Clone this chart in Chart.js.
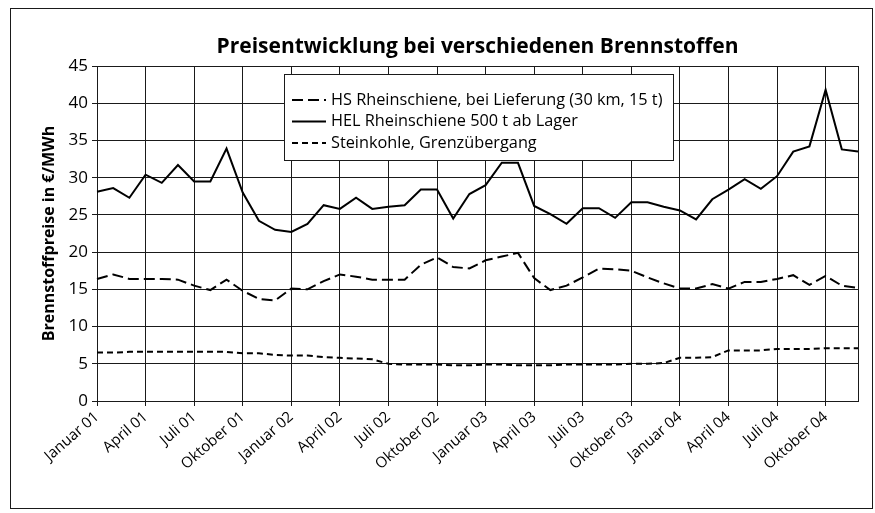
<!DOCTYPE html>
<html lang="de">
<head>
<meta charset="utf-8">
<title>Preisentwicklung bei verschiedenen Brennstoffen</title>
<script src="https://cdn.jsdelivr.net/npm/chart.js@4.4.1/dist/chart.umd.min.js"></script>
<style>
  html, body { margin: 0; padding: 0; background: #fff; }
  #wrap { position: relative; width: 875px; height: 513px; }
</style>
</head>
<body>
<div id="wrap"><canvas id="chart" width="875" height="513"></canvas></div>
<script>
// Monthly prices, Januar 01 .. Dezember 04 (€/MWh)
const months = [
    "Januar 01", "Februar 01", "März 01", "April 01", "Mai 01", "Juni 01",
    "Juli 01", "August 01", "September 01", "Oktober 01", "November 01", "Dezember 01",
    "Januar 02", "Februar 02", "März 02", "April 02", "Mai 02", "Juni 02",
    "Juli 02", "August 02", "September 02", "Oktober 02", "November 02", "Dezember 02",
    "Januar 03", "Februar 03", "März 03", "April 03", "Mai 03", "Juni 03",
    "Juli 03", "August 03", "September 03", "Oktober 03", "November 03", "Dezember 03",
    "Januar 04", "Februar 04", "März 04", "April 04", "Mai 04", "Juni 04",
    "Juli 04", "August 04", "September 04", "Oktober 04", "November 04", "Dezember 04",
];

const hsRheinschiene = [
    16.4, 17.0, 16.4, 16.4, 16.4, 16.3, 15.5, 14.9, 16.3, 14.8, 13.7, 13.5,
    15.1, 15.0, 16.1, 17.0, 16.7, 16.3, 16.3, 16.3, 18.3, 19.3, 18.0, 17.8,
    18.9, 19.4, 19.9, 16.5, 14.9, 15.5, 16.6, 17.8, 17.7, 17.5, 16.6, 15.8,
    15.1, 15.1, 15.7, 15.1, 16.0, 16.0, 16.4, 16.9, 15.6, 16.8, 15.5, 15.2,
];

const helRheinschiene = [
    28.1, 28.6, 27.3, 30.4, 29.3, 31.7, 29.5, 29.5, 33.9, 28.0, 24.2, 23.0,
    22.7, 23.8, 26.3, 25.8, 27.3, 25.8, 26.1, 26.3, 28.4, 28.4, 24.5, 27.8,
    29.0, 32.0, 32.0, 26.2, 25.1, 23.8, 25.9, 25.9, 24.6, 26.7, 26.7, 26.1,
    25.6, 24.4, 27.1, 28.4, 29.8, 28.5, 30.2, 33.5, 34.2, 41.8, 33.8, 33.5,
];

const steinkohle = [
    6.5, 6.5, 6.6, 6.6, 6.6, 6.6, 6.6, 6.6, 6.6, 6.4, 6.4, 6.2,
    6.1, 6.1, 5.9, 5.8, 5.7, 5.6, 5.0, 4.9, 4.9, 4.9, 4.8, 4.8,
    4.9, 4.9, 4.8, 4.8, 4.8, 4.9, 4.9, 4.9, 4.9, 5.0, 5.0, 5.1,
    5.8, 5.8, 5.9, 6.8, 6.8, 6.8, 7.0, 7.0, 7.0, 7.1, 7.1, 7.1,
];

const seriesLabels = [
    "HS Rheinschiene, bei Lieferung (30 km, 15 t)",
    "HEL Rheinschiene 500 t ab Lager",
    "Steinkohle, Grenzübergang",
];

const chartTitle = "Preisentwicklung bei verschiedenen Brennstoffen";
const yTitle = "Brennstoffpreise in €/MWh";

const ink = "#1a1a1a";
const fontFamily = "'Open Sans', 'Noto Sans', sans-serif";

// every third month gets a label and a vertical grid line
const isQuarter = i => i % 3 === 0;

// frame, title and the boxed legend inside the plot
const decorPlugin = {
    id: "decor",
    afterDraw(chart) {
        const { ctx, chartArea } = chart;
        ctx.save();

        ctx.strokeStyle = ink;
        ctx.lineWidth = 1;
        ctx.strokeRect(10.5, 8.5, 862, 500);

        ctx.fillStyle = "#000";
        ctx.font = "bold 21px " + fontFamily;
        ctx.textAlign = "center";
        ctx.textBaseline = "middle";
        ctx.fillText(chartTitle, (chartArea.left + chartArea.right) / 2, 47);

        // legend box
        const box = { x: 284.5, y: 74.5, w: 389, h: 86 };
        ctx.fillStyle = "#fff";
        ctx.fillRect(box.x, box.y, box.w, box.h);
        ctx.strokeRect(box.x, box.y, box.w, box.h);

        ctx.font = "16.3px " + fontFamily;
        ctx.textAlign = "left";
        chart.data.datasets.forEach((ds, i) => {
            const y = 100 + i * 21.5;
            ctx.beginPath();
            ctx.setLineDash(ds.borderDash || []);
            ctx.lineWidth = 2;
            ctx.strokeStyle = "#000";
            ctx.moveTo(292, y);
            ctx.lineTo(326, y);
            ctx.stroke();
            ctx.setLineDash([]);
            ctx.fillStyle = "#000";
            ctx.fillText(ds.label, 331, y);
        });

        ctx.restore();
    },
};

new Chart(document.getElementById("chart"), {
    type: "line",
    data: {
        labels: months,
        datasets: [
            {
                label: seriesLabels[0],
                data: hsRheinschiene,
                borderColor: "#000",
                borderWidth: 2,
                borderDash: [11, 5],
                pointRadius: 0,
                tension: 0,
            },
            {
                label: seriesLabels[1],
                data: helRheinschiene,
                borderColor: "#000",
                borderWidth: 2,
                pointRadius: 0,
                tension: 0,
            },
            {
                label: seriesLabels[2],
                data: steinkohle,
                borderColor: "#000",
                borderWidth: 2,
                borderDash: [6, 4],
                pointRadius: 0,
                tension: 0,
            },
        ],
    },
    options: {
        responsive: false,
        animation: false,
        layout: { padding: { top: 66, right: 17, bottom: 0, left: 0 } },
        plugins: {
            legend: { display: false },
            title: { display: false },
            tooltip: { enabled: false },
        },
        scales: {
            x: {
                offset: false,
                afterFit: scale => { scale.height = 112; },
                grid: {
                    color: c => (isQuarter(c.index) || c.index === months.length - 1) ? ink : "rgba(0,0,0,0)",
                    tickColor: c => isQuarter(c.index) ? ink : "rgba(0,0,0,0)",
                    lineWidth: 1,
                    tickLength: 5,
                },
                border: { display: true, color: ink, width: 1 },
                ticks: {
                    autoSkip: false,
                    minRotation: 41,
                    maxRotation: 41,
                    padding: 2,
                    color: "#000",
                    font: { family: fontFamily, size: 15 },
                    callback: function (value, index) {
                        return isQuarter(index) ? this.getLabelForValue(value) : "";
                    },
                },
            },
            y: {
                min: 0,
                max: 45,
                afterFit: scale => { scale.width = 97; },
                grid: { color: ink, lineWidth: 1, tickLength: 5 },
                border: { display: true, color: ink, width: 1 },
                ticks: {
                    stepSize: 5,
                    padding: 4,
                    color: "#000",
                    font: { family: fontFamily, size: 17 },
                },
                title: {
                    display: true,
                    text: yTitle,
                    color: "#000",
                    padding: { top: 40, bottom: 0 },
                    font: { family: fontFamily, size: 16, weight: "bold" },
                },
            },
        },
    },
    plugins: [decorPlugin],
});
</script>
</body>
</html>
